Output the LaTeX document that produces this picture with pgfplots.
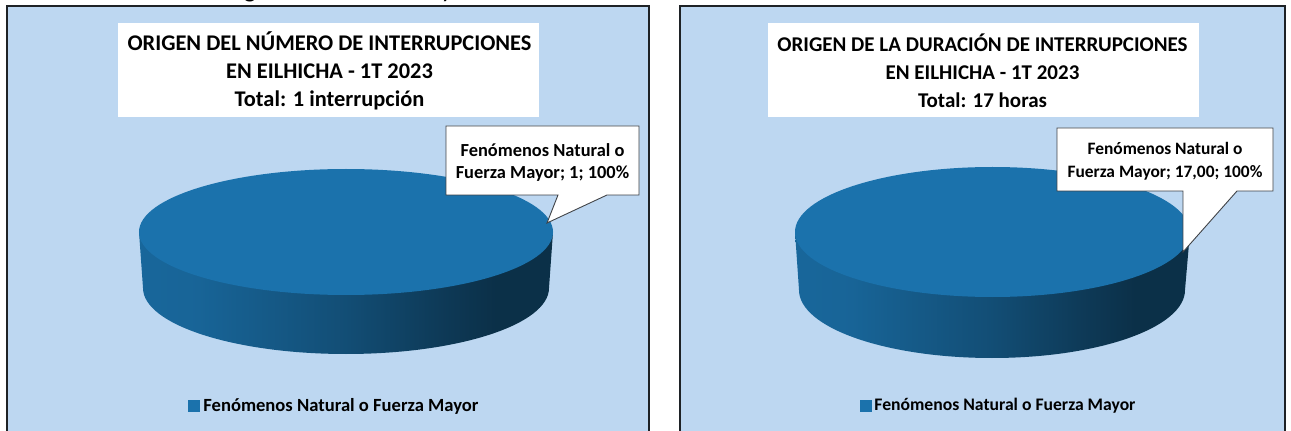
\documentclass[border=0pt]{standalone}
\usepackage{pgfplots}
\pgfplotsset{compat=1.18}
\usepackage{fontspec}
\setmainfont{Carlito}
\definecolor{panel}{HTML}{BDD7F1}
\definecolor{pie}{HTML}{1B72AC}
\definecolor{frame}{HTML}{1E2226}
\pgfdeclarehorizontalshading{piesides}{100bp}{
 color(0bp)=(pie!90!black);
 color(25bp)=(pie!90!black);
 color(32bp)=(pie!88!black);
 color(50bp)=(pie!68!black);
 color(62bp)=(pie!50!black);
 color(68bp)=(pie!42!black);
 color(75bp)=(pie!42!black);
 color(100bp)=(pie!42!black)}
\newcommand{\titlef}{\fontsize{22.4bp}{28bp}\selectfont\bfseries}
\newcommand{\titleg}{\fontsize{21bp}{28bp}\selectfont\bfseries}
\newcommand{\labelf}{\fontsize{18.4bp}{22bp}\selectfont\bfseries}
\newcommand{\labelg}{\fontsize{17.4bp}{23bp}\selectfont\bfseries}
\pgfplotsset{panelaxis/.style={hide axis,x=1bp,y=1bp,ymin=0,ymax=431,clip=false,
  legend style={draw=none,fill=none,
    legend cell align=left,inner sep=0pt,outer sep=0pt,/tikz/every even column/.style={column sep=4bp}}},
  pielegend/.style={legend image code/.code={\fill[pie] (-2bp,-5.5bp) rectangle (9bp,5.5bp);}}}
\begin{document}
\begin{tikzpicture}[x=1bp,y=1bp]
\useasboundingbox (0bp,0bp) rectangle (1291bp,431bp);
\clip (0bp,0bp) rectangle (1291bp,431bp);
\begin{axis}[panelaxis,at={(0bp,0bp)},anchor=origin,xmin=0,xmax=660,
  legend style={at={(axis cs:188,25.5)},anchor=west,font=\fontsize{18.6bp}{22bp}\selectfont\bfseries}]
\addlegendimage{pielegend}
\addlegendentry{\hspace{2bp}Fenómenos Natural o Fuerza Mayor}
\fill[panel] (axis cs:7,0) rectangle (axis cs:649,425);
\draw[frame,line width=1.2bp] (axis cs:7,0) -- (axis cs:7,425) -- (axis cs:649,425) -- (axis cs:649,0);
\fill[white] (axis cs:118,314) rectangle (axis cs:539,408);
\node[align=center,font=\titlef,text=black,inner sep=0pt] at (axis cs:329.5,360.5)
 {ORIGEN DEL NÚMERO DE INTERRUPCIONES\\EN EILHICHA - 1T 2023\\Total: 1 interrupción};
\node[font=\fontsize{26bp}{26bp}\selectfont,anchor=base,inner sep=0pt] at (axis cs:250,433) {g};
\node[font=\fontsize{26bp}{26bp}\selectfont,anchor=base,inner sep=0pt] at (axis cs:447,433) {y};
\shade[shading=piesides] (axis cs:139,199) -- (axis cs:143,143)
  arc[start angle=180,end angle=360,x radius=203bp,y radius=66bp] -- (axis cs:553,199) -- cycle;
\fill[pie] (axis cs:346,199) ellipse[x radius=207bp,y radius=63bp];
\filldraw[fill=white,draw=frame!85,line width=0.9bp,line join=miter]
  (axis cs:446,305) -- (axis cs:639,305) -- (axis cs:639,236) -- (axis cs:607,236)
  -- (axis cs:547,208) -- (axis cs:558,236) -- (axis cs:446,236) -- cycle;
\node[align=center,font=\labelf,inner sep=0pt] at (axis cs:542.5,268.5) {Fenómenos Natural o\\Fuerza Mayor; 1; 100\%};
\end{axis}
\begin{axis}[panelaxis,at={(660bp,0bp)},anchor=origin,xmin=660,xmax=1291,
  legend style={at={(axis cs:860,25.5)},anchor=west,font=\fontsize{17.65bp}{22bp}\selectfont\bfseries}]
\addlegendimage{pielegend}
\addlegendentry{\hspace{1bp}Fenómenos Natural o Fuerza Mayor}
\fill[panel] (axis cs:680,0) rectangle (axis cs:1285,425);
\draw[frame,line width=1.2bp] (axis cs:680,0) -- (axis cs:680,425) -- (axis cs:1285,425) -- (axis cs:1285,0);
\fill[white] (axis cs:768,314) rectangle (axis cs:1199,408);
\node[align=center,font=\titleg,text=black,inner sep=0pt] at (axis cs:982.5,360.5)
 {ORIGEN DE LA DURACIÓN DE INTERRUPCIONES\\EN EILHICHA - 1T 2023\\Total: 17 horas};
\shade[shading=piesides] (axis cs:795,199) -- (axis cs:799,141)
  arc[start angle=180,end angle=360,x radius=193bp,y radius=68bp] -- (axis cs:1190,199) -- cycle;
\fill[pie] (axis cs:992.5,199) ellipse[x radius=197.5bp,y radius=65bp];
\filldraw[fill=white,draw=frame!85,line width=0.9bp,line join=miter]
  (axis cs:1057,303) -- (axis cs:1273,303) -- (axis cs:1273,240) -- (axis cs:1237,240)
  -- (axis cs:1183,179) -- (axis cs:1183,240) -- (axis cs:1057,240) -- cycle;
\node[align=center,font=\labelg,inner sep=0pt] at (axis cs:1165,270) {Fenómenos Natural o\\Fuerza Mayor; 17,00; 100\%};
\end{axis}
\end{tikzpicture}
\end{document}
